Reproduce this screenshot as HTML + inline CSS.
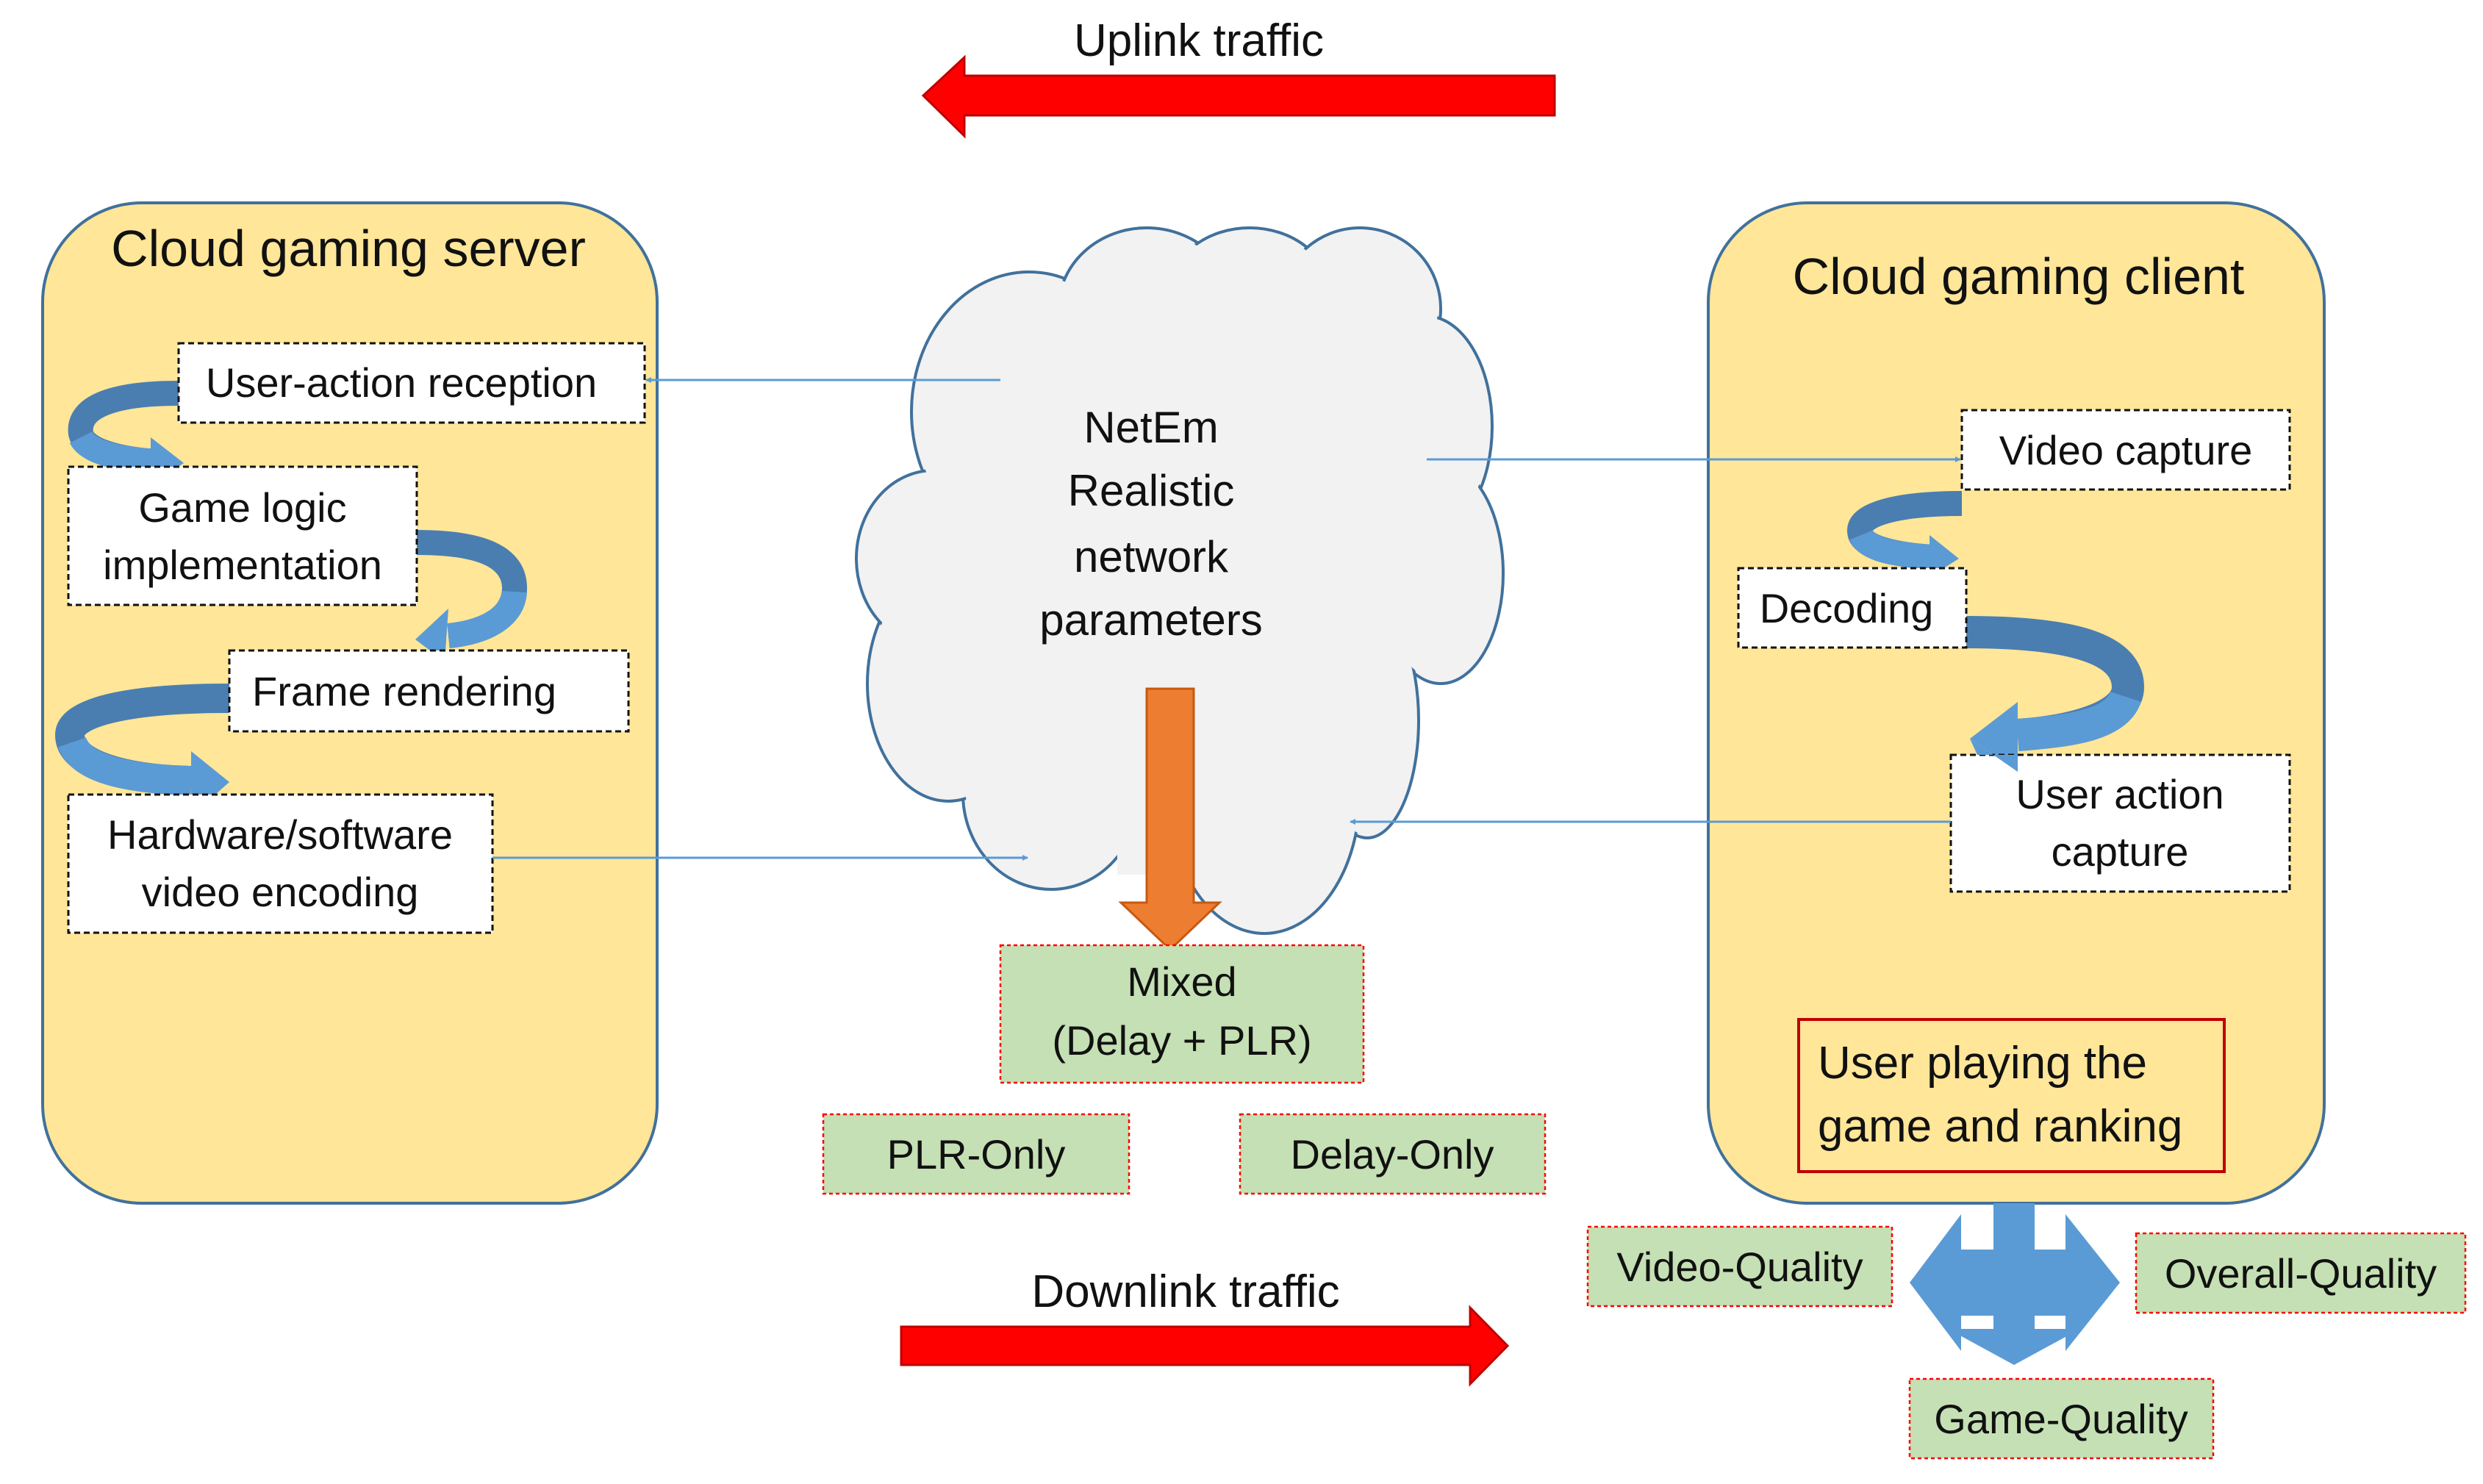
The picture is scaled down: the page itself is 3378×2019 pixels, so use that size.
<!DOCTYPE html>
<html><head><meta charset="utf-8"><style>
body{margin:0;background:#fff;}
svg text{font-family:"Liberation Sans",sans-serif;fill:#111;}
</style></head><body>
<svg width="3378" height="2014" viewBox="0 0 3378 2014" xmlns="http://www.w3.org/2000/svg">
<defs>
<marker id="ah" markerWidth="8" markerHeight="8" refX="7" refY="4" orient="auto" markerUnits="userSpaceOnUse"><path d="M0,0 L8,4 L0,8 z" fill="#5b9bd5"/></marker>
</defs>
<text x="1631" y="76" font-size="62" text-anchor="middle">Uplink traffic</text>
<polygon points="2115,103 1312,103 1312,78 1256,130 1312,185 1312,157 2115,157" fill="#ff0000" stroke="#c00000" stroke-width="3"/>
<text x="1613" y="1778" font-size="62" text-anchor="middle">Downlink traffic</text>
<polygon points="1226,1805 2000,1805 2000,1779 2051,1831 2000,1883 2000,1857 1226,1857" fill="#ff0000" stroke="#c00000" stroke-width="3"/>

<rect x="58" y="276" width="836" height="1361" rx="135" fill="#ffe699" stroke="#41719c" stroke-width="4"/>
<text x="474" y="362" font-size="70" text-anchor="middle">Cloud gaming server</text>
<g fill="none">
<path d="M243,535 C150,535 105,555 110,590 C115,612 160,625 215,628" stroke="#4a7eb0" stroke-width="34"/>
<path d="M110,595 C120,615 160,625 215,628" stroke="#5b9bd5" stroke-width="34"/>
</g>
<polygon points="205,595 250,630 205,660" fill="#5b9bd5"/>
<g fill="none">
<path d="M567,738 C660,738 700,760 700,800 C700,840 660,860 610,865" stroke="#4a7eb0" stroke-width="34"/>
<path d="M700,805 C698,840 660,860 610,865" stroke="#5b9bd5" stroke-width="34"/>
</g>
<polygon points="610,828 565,870 605,900" fill="#5b9bd5"/>
<g fill="none">
<path d="M312,950 C170,950 95,970 95,1000 C95,1040 170,1060 260,1062" stroke="#4a7eb0" stroke-width="40"/>
<path d="M98,1010 C110,1045 170,1060 260,1062" stroke="#5b9bd5" stroke-width="40"/>
</g>
<polygon points="260,1022 312,1064 260,1110" fill="#5b9bd5"/>
<g font-size="56" text-anchor="middle">
<rect x="243" y="467" width="634" height="108" fill="#fff" stroke="#111" stroke-width="3" stroke-dasharray="8,5"/>
<text x="546" y="540">User-action reception</text>
<rect x="93" y="635" width="474" height="188" fill="#fff" stroke="#111" stroke-width="3" stroke-dasharray="8,5"/>
<text x="330" y="710">Game logic</text><text x="330" y="788">implementation</text>
<rect x="312" y="885" width="543" height="110" fill="#fff" stroke="#111" stroke-width="3" stroke-dasharray="8,5"/>
<text x="550" y="960">Frame rendering</text>
<rect x="93" y="1081" width="577" height="188" fill="#fff" stroke="#111" stroke-width="3" stroke-dasharray="8,5"/>
<text x="381" y="1155">Hardware/software</text><text x="381" y="1233">video encoding</text>
</g>

<rect x="2324" y="276" width="838" height="1361" rx="135" fill="#ffe699" stroke="#41719c" stroke-width="4"/>
<text x="2746" y="400" font-size="70" text-anchor="middle">Cloud gaming client</text>
<g fill="none">
<path d="M2669,685 C2580,685 2530,700 2530,722 C2530,745 2580,755 2630,758" stroke="#4a7eb0" stroke-width="34"/>
<path d="M2532,728 C2540,748 2580,755 2630,758" stroke="#5b9bd5" stroke-width="34"/>
</g>
<polygon points="2625,728 2665,760 2625,785" fill="#5b9bd5"/>
<g fill="none">
<path d="M2675,860 C2840,860 2895,890 2895,935 C2895,975 2820,995 2745,1000" stroke="#4a7eb0" stroke-width="44"/>
<path d="M2892,948 C2880,985 2820,995 2745,1000" stroke="#5b9bd5" stroke-width="44"/>
</g>
<polygon points="2745,955 2680,1005 2745,1050" fill="#5b9bd5"/>
<g font-size="56" text-anchor="middle">
<rect x="2669" y="558" width="446" height="108" fill="#fff" stroke="#111" stroke-width="3" stroke-dasharray="8,5"/>
<text x="2892" y="632">Video capture</text>
<rect x="2365" y="773" width="310" height="108" fill="#fff" stroke="#111" stroke-width="3" stroke-dasharray="8,5"/>
<text x="2512" y="847">Decoding</text>
<rect x="2654" y="1027" width="461" height="186" fill="#fff" stroke="#111" stroke-width="3" stroke-dasharray="8,5"/>
<polygon points="2680,1005 2745,1050 2745,1027 2690,1027" fill="#5b9bd5"/>
<text x="2884" y="1100">User action</text><text x="2884" y="1178">capture</text>
</g>
<rect x="2447" y="1387" width="579" height="207" fill="none" stroke="#c00000" stroke-width="4"/>
<text x="2473" y="1467" font-size="62">User playing the</text>
<text x="2473" y="1553" font-size="62">game and ranking</text>

<g fill="#f2f2f2" stroke="#41719c" stroke-width="4">
<ellipse cx="1400" cy="560" rx="160" ry="190"/>
<ellipse cx="1560" cy="420" rx="120" ry="110"/>
<ellipse cx="1700" cy="400" rx="110" ry="90"/>
<ellipse cx="1850" cy="420" rx="110" ry="110"/>
<ellipse cx="1940" cy="580" rx="90" ry="150"/>
<ellipse cx="1960" cy="780" rx="85" ry="150"/>
<ellipse cx="1860" cy="980" rx="70" ry="160"/>
<ellipse cx="1720" cy="1080" rx="130" ry="190"/>
<ellipse cx="1430" cy="1080" rx="120" ry="130"/>
<ellipse cx="1290" cy="930" rx="110" ry="160"/>
<ellipse cx="1270" cy="760" rx="105" ry="120"/>
</g>
<g fill="#f2f2f2">
<ellipse cx="1400" cy="560" rx="156" ry="186"/>
<ellipse cx="1560" cy="420" rx="116" ry="106"/>
<ellipse cx="1700" cy="400" rx="106" ry="86"/>
<ellipse cx="1850" cy="420" rx="106" ry="106"/>
<ellipse cx="1940" cy="580" rx="86" ry="146"/>
<ellipse cx="1960" cy="780" rx="81" ry="146"/>
<ellipse cx="1860" cy="980" rx="66" ry="156"/>
<ellipse cx="1720" cy="1080" rx="126" ry="186"/>
<ellipse cx="1430" cy="1080" rx="116" ry="126"/>
<ellipse cx="1290" cy="930" rx="106" ry="156"/>
<ellipse cx="1270" cy="760" rx="101" ry="116"/>
<ellipse cx="1610" cy="740" rx="320" ry="370"/>
<rect x="1520" y="1000" width="90" height="190"/>
</g>
<g font-size="60" text-anchor="middle">
<text x="1566" y="602">NetEm</text><text x="1566" y="688">Realistic</text>
<text x="1566" y="778">network</text><text x="1566" y="864">parameters</text>
</g>
<polygon points="1560,937 1624,937 1624,1228 1659,1228 1592,1292 1525,1228 1560,1228" fill="#ed7d31" stroke="#c55a11" stroke-width="3"/>

<g stroke="#5b9bd5" stroke-width="3" fill="none" marker-end="url(#ah)">
<line x1="1361" y1="517" x2="879" y2="517"/>
<line x1="1941" y1="625" x2="2667" y2="625"/>
<line x1="2654" y1="1118" x2="1837" y2="1118"/>
<line x1="670" y1="1167" x2="1398" y2="1167"/>
</g>

<g fill="#c5e0b4" stroke="#ff0000" stroke-width="2.5" stroke-dasharray="5,4">
<rect x="1361" y="1286" width="494" height="187"/>
<rect x="1120" y="1516" width="416" height="108"/>
<rect x="1687" y="1516" width="415" height="108"/>
<rect x="2160" y="1669" width="414" height="108"/>
<rect x="2906" y="1678" width="448" height="108"/>
<rect x="2598" y="1876" width="413" height="108"/>
</g>
<g font-size="56" text-anchor="middle">
<text x="1608" y="1355">Mixed</text><text x="1608" y="1435">(Delay + PLR)</text>
<text x="1328" y="1590">PLR-Only</text>
<text x="1894" y="1590">Delay-Only</text>
<text x="2367" y="1743">Video-Quality</text>
<text x="3130" y="1752">Overall-Quality</text>
<text x="2804" y="1950">Game-Quality</text>
</g>
<g fill="#5b9bd5">
<polygon points="2598,1745 2668,1652 2668,1838"/>
<polygon points="2884,1745 2810,1652 2810,1838"/>
<polygon points="2740,1857 2650,1808 2830,1808"/>
<rect x="2660" y="1700" width="158" height="90"/>
<rect x="2712" y="1637" width="56" height="175"/>
</g>
</svg>
</body></html>
